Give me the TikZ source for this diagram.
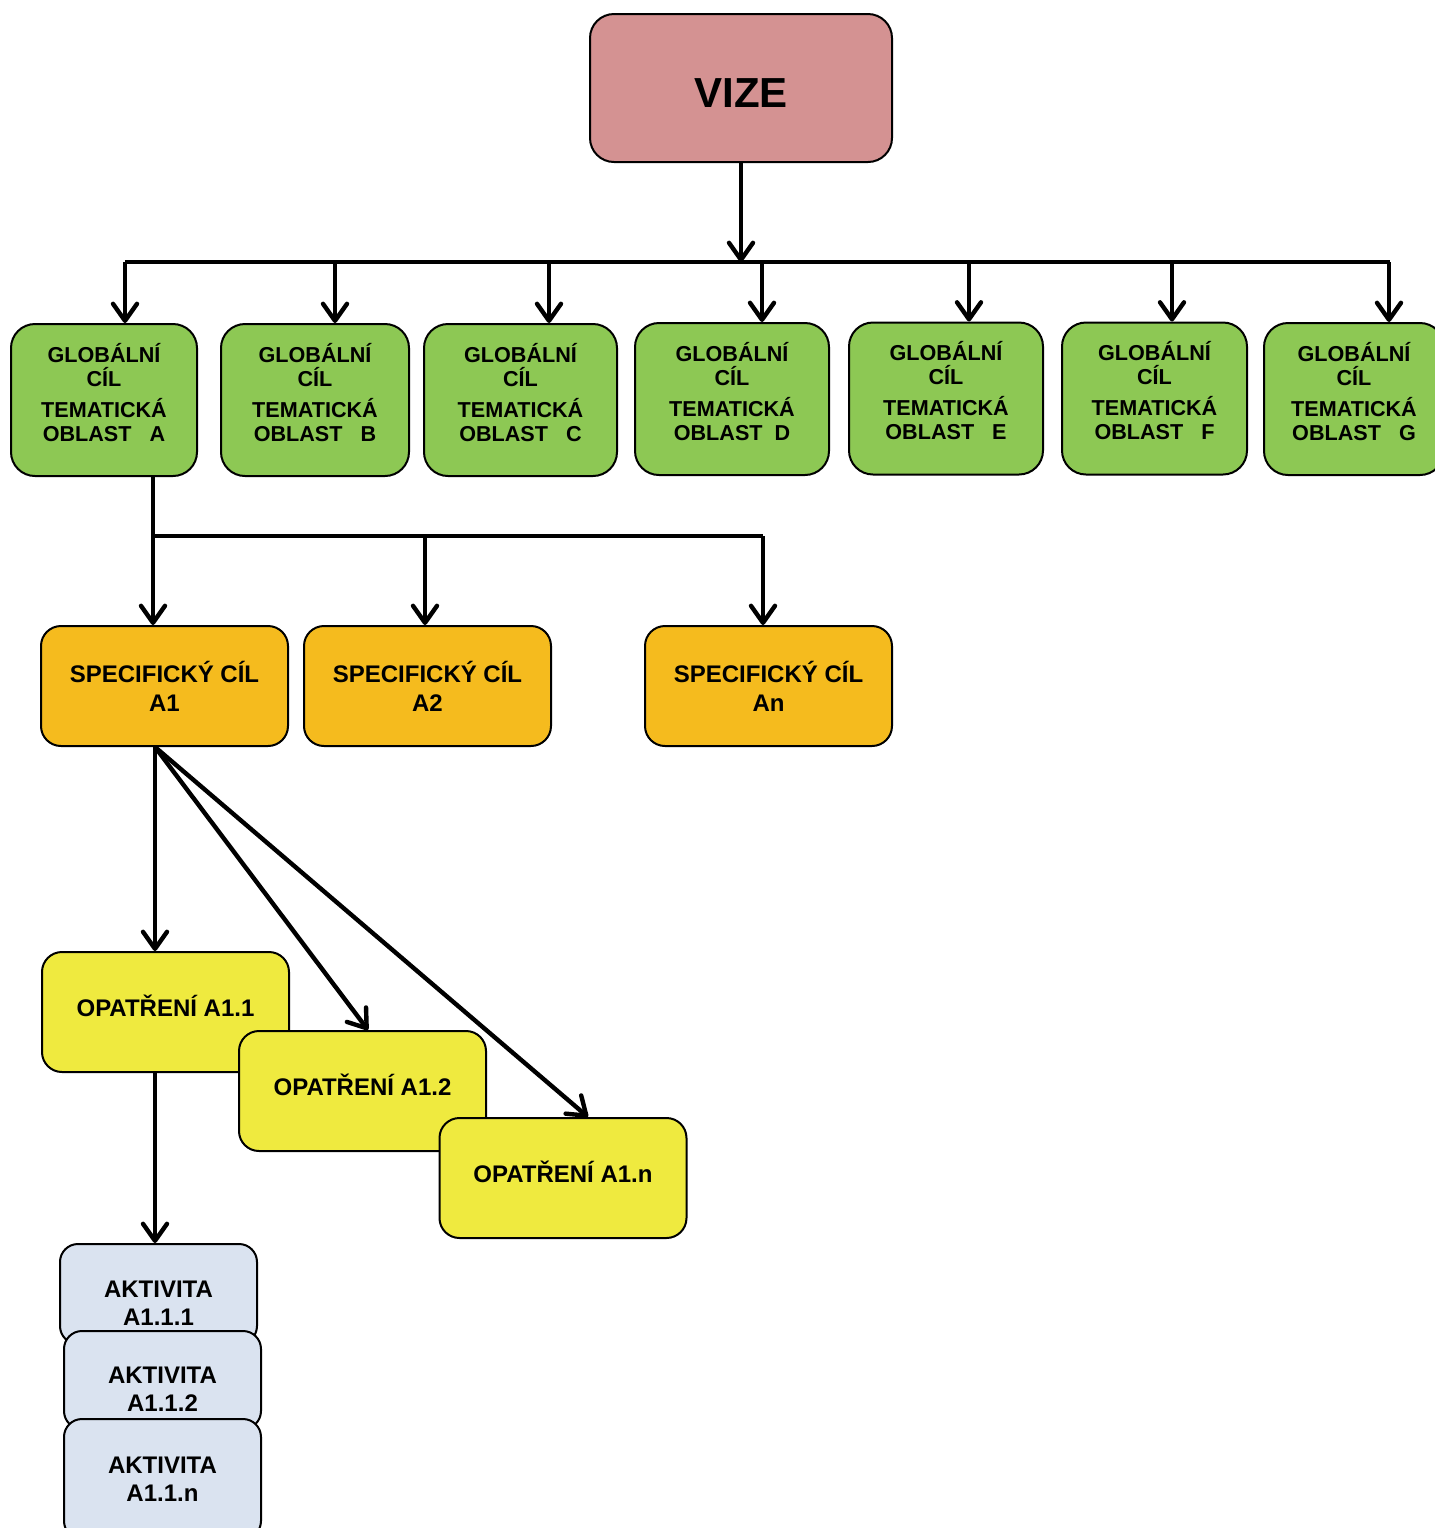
\documentclass[tikz,border=0pt]{standalone}
\usepackage{fontspec}
\setmainfont{Liberation Sans}
\usetikzlibrary{arrows.meta}

\definecolor{vizeFill}{RGB}{212,146,146}
\definecolor{goalFill}{RGB}{141,200,84}
\definecolor{specFill}{RGB}{245,187,30}
\definecolor{measureFill}{RGB}{239,234,63}
\definecolor{activityFill}{RGB}{218,227,240}

\begin{document}
\begin{tikzpicture}[
                    x=0.5pt, y=-0.5pt,
                    box/.style={draw, line width=1pt, rounded corners=10pt, align=center, inner sep=0pt},
                    vize/.style={box, fill=vizeFill, rounded corners=12pt, minimum width=151pt, minimum height=74pt,
                        text height=19pt, font=\fontsize{21}{25}\selectfont\bfseries},
                    goal/.style={box, fill=goalFill, rounded corners=12pt, minimum width=#1, minimum height=76pt,
                        text depth=8pt, font=\fontsize{10.8}{12}\selectfont\bfseries},
                    goal/.default=94pt,
                    spec/.style={box, fill=specFill, minimum width=123.5pt, minimum height=60pt,
                        font=\fontsize{12}{14.5}\selectfont\bfseries},
                    measure/.style={box, fill=measureFill, minimum width=123.5pt, minimum height=60pt,
                        text depth=6.5pt, font=\fontsize{12}{14.5}\selectfont\bfseries},
                    activity/.style={box, fill=activityFill, rounded corners=9pt, minimum width=98.5pt, minimum height=50pt,
                        text height=31.5pt, font=\fontsize{12}{14}\selectfont\bfseries},
                    bar/.style={line width=2.4pt},
                    arrow/.style={line width=2.2pt, -{Straight Barb[length=8.5pt, width=12pt, round]}}
                ]
                \useasboundingbox (0, 0) rectangle (1435, 1528);

                \node (vize) at (741, 88) [vize] {VIZE};

                % globalni cile
                \node (goalA) at (104, 400) [goal=93pt] {GLOBÁLNÍ\\CÍL\\[3.5pt]TEMATICKÁ\\OBLAST\ \ \ A};
                \node (goalB) at (315, 400) [goal=94pt] {GLOBÁLNÍ\\CÍL\\[3.5pt]TEMATICKÁ\\OBLAST\ \ \ B};
                \node (goalC) at (520.5, 400) [goal=96.5pt] {GLOBÁLNÍ\\CÍL\\[3.5pt]TEMATICKÁ\\OBLAST\ \ \ C};
                \node (goalD) at (732, 399) [goal=97pt] {GLOBÁLNÍ\\CÍL\\[3.5pt]TEMATICKÁ\\OBLAST\ \ D};
                \node (goalE) at (946, 398.5) [goal=97pt] {GLOBÁLNÍ\\CÍL\\[3.5pt]TEMATICKÁ\\OBLAST\ \ \ E};
                \node (goalF) at (1154.5, 398.5) [goal=92.5pt] {GLOBÁLNÍ\\CÍL\\[3.5pt]TEMATICKÁ\\OBLAST\ \ \ F};
                \node (goalG) at (1354, 399) [goal=90pt] {GLOBÁLNÍ\\CÍL\\[3.5pt]TEMATICKÁ\\OBLAST\ \ \ G};

                % specificke cile
                \node (specA1) at (164.5, 686) [spec] {SPECIFICKÝ CÍL\\A1};
                \node (specA2) at (427.5, 686) [spec] {SPECIFICKÝ CÍL\\A2};
                \node (specAn) at (768.5, 686) [spec] {SPECIFICKÝ CÍL\\An};

                % opatreni
                \node (measA11) at (165.5, 1012) [measure] {OPATŘENÍ A1.1};
                \node (measA12) at (362.5, 1091) [measure] {OPATŘENÍ A1.2};
                \node (measA1n) at (563, 1178) [measure] {OPATŘENÍ A1.n};

                % aktivity
                \node (actA111) at (158.5, 1294) [activity] {AKTIVITA\\A1.1.1};
                \node (actA112) at (162.5, 1380) [activity, minimum height=49pt] {AKTIVITA\\A1.1.2};
                \node (actA11n) at (162.5, 1479) [activity, minimum height=60pt, text height=22.6pt] {AKTIVITA\\A1.1.n};

                % rozvetveni
                \coordinate (busW) at (125, 262);
                \coordinate (busE) at (1390, 262);
                \draw[bar] (busW) -- (busE);
                \draw[arrow] (vize.south) -- (vize.south |- busW);
                \coordinate (dropA) at (125, 262);
                \coordinate (dropB) at (335, 262);
                \coordinate (dropC) at (549, 262);
                \coordinate (dropD) at (762, 262);
                \coordinate (dropE) at (969, 262);
                \coordinate (dropF) at (1172, 262);
                \coordinate (dropG) at (1389, 262);
                \draw[arrow] (dropA) -- (dropA |- goalA.north);
                \draw[arrow] (dropB) -- (dropB |- goalB.north);
                \draw[arrow] (dropC) -- (dropC |- goalC.north);
                \draw[arrow] (dropD) -- (dropD |- goalD.north);
                \draw[arrow] (dropE) -- (dropE |- goalE.north);
                \draw[arrow] (dropF) -- (dropF |- goalF.north);
                \draw[arrow] (dropG) -- (dropG |- goalG.north);

                \coordinate (forkA) at (153, 536);
                \coordinate (forkA2) at (425, 536);
                \coordinate (forkAn) at (763, 536);
                \draw[arrow] (forkA |- goalA.south) -- (forkA |- specA1.north);
                \draw[bar] (forkA) -- (forkAn);
                \draw[arrow] (forkA2) -- (forkA2 |- specA2.north);
                \draw[arrow] (forkAn) -- (forkAn |- specAn.north);

                \coordinate (fanA1) at (155, 747);
                \draw[arrow] (fanA1) -- (fanA1 |- measA11.north);
                \draw[arrow] (fanA1) -- ([xshift=2.75pt]measA12.north);
                \draw[arrow] (fanA1) -- ([xshift=12.5pt]measA1n.north);
                \draw[arrow] (fanA1 |- measA11.south) -- (fanA1 |- actA111.north);
            \end{tikzpicture}
\end{document}
